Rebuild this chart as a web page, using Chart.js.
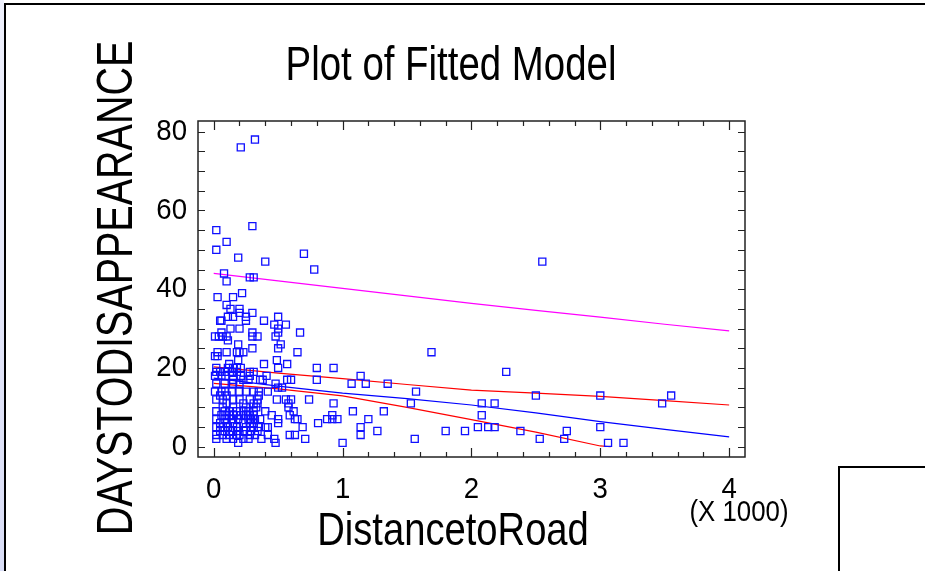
<!DOCTYPE html>
<html>
<head>
<meta charset="utf-8">
<script src="https://cdn.jsdelivr.net/npm/chart.js@4.4.0/dist/chart.umd.min.js"></script>
<style>
  html, body { margin: 0; padding: 0; background: #fff; }
  canvas { display: block; }
</style>
</head>
<body>
<canvas id="grafico" width="925" height="571"></canvas>
<script>
// DADOS (distance in thousands, grouped by days)
const dayLevels = [78, 76, 56, 55, 52, 50, 49, 48, 47, 45, 44, 43, 42, 39, 38, 36, 35, 34, 33, 32,
  31, 30, 29, 28, 27, 26, 25, 24, 23, 22, 21, 20, 19, 18, 17, 16, 15, 14, 13, 12, 11, 10, 9, 8, 7, 6, 5, 4, 3, 2, 1];
const distanceAtLevel = [
  [0.32], [0.21], [0.30], [0.02], [0.10], [0.02], [0.70], [0.19], [0.40, 2.55], [0.78], [0.08],
  [0.28, 0.31], [0.10], [0.22], [0.03, 0.15], [0.10], [0.13, 0.20], [0.20, 0.30],
  [0.11, 0.15, 0.25, 0.50], [0.05, 0.06, 0.25, 0.39], [0.47, 0.56], [0.13, 0.20, 0.50],
  [0.06, 0.30, 0.50, 0.67], [0.01, 0.04, 0.07, 0.10, 0.30, 0.34, 0.48], [0.11], [0.19, 0.52],
  [0.30, 0.50], [0.03, 0.10, 0.18, 0.20, 0.23, 0.65, 1.69], [0.01, 0.03], [0.19, 0.49],
  [0.12, 0.39, 0.57], [0.02, 0.11, 0.15, 0.18, 0.21, 0.50, 0.80, 0.93],
  [0.02, 0.05, 0.09, 0.14, 0.18, 0.28, 0.31, 2.27],
  [0.01, 0.06, 0.09, 0.15, 0.21, 0.28, 0.41, 1.14],
  [0.15, 0.23, 0.27, 0.36, 0.38, 0.57, 0.60, 0.80],
  [0.02, 0.085, 0.15, 0.20, 0.48, 1.07, 1.18, 1.35], [0.50, 0.53],
  [0.01, 0.06, 0.09, 0.14, 0.20, 0.25, 0.31, 0.35, 0.42, 1.57],
  [0.05, 0.10, 0.35, 2.50, 3.00, 3.55],
  [0.02, 0.07, 0.15, 0.20, 0.28, 0.34, 0.49, 0.56, 0.60, 0.74],
  [0.10, 0.23, 0.31, 0.34, 0.58, 0.93, 1.53, 2.08, 2.18, 3.48],
  [0.07, 0.15, 0.25, 0.33, 0.58],
  [0.02, 0.085, 0.12, 0.18, 0.23, 0.27, 0.31, 0.40, 0.62, 1.08, 1.32],
  [0.06, 0.10, 0.12, 0.15, 0.18, 0.21, 0.25, 0.28, 0.31, 0.45, 0.59, 0.92, 2.08],
  [0.02, 0.085, 0.14, 0.19, 0.27, 0.29, 0.32, 0.36, 0.50, 0.63, 0.65, 0.88, 0.92, 0.96, 1.20],
  [0.05, 0.10, 0.15, 0.23, 0.28, 0.31, 0.50, 0.81],
  [0.02, 0.07, 0.11, 0.18, 0.25, 0.31, 0.35, 0.40, 0.42, 0.69, 1.14, 2.05, 2.13, 2.18, 3.00],
  [0.05, 0.085, 0.15, 0.19, 0.23, 0.29, 0.34, 1.27, 1.80, 1.95, 2.38, 2.74],
  [0.02, 0.07, 0.12, 0.18, 0.20, 0.28, 0.32, 0.42, 0.59, 0.63, 1.14],
  [0.02, 0.10, 0.15, 0.23, 0.27, 0.37, 0.47, 0.71, 1.56, 2.53, 2.72],
  [0.19, 0.48, 1.00, 3.06, 3.18]
];

// curvas do modelo
const fitX = [0, 0.5, 1, 1.5, 2, 2.5, 3, 3.5, 4];
const fitted = [17.4, 15.4, 13.6, 12.2, 10.6, 8.6, 6.4, 4.4, 2.5];
const upperConf = [20.3, 18.7, 17.3, 15.8, 14.4, 13.6, 12.8, 11.7, 10.6];
const upperPred = [44.0, 42.1, 40.2, 38.3, 36.4, 34.6, 32.9, 31.1, 29.4];
const lowerX = [0, 0.5, 1, 1.5, 2, 2.5, 3, 3.08];
const lowerConf = [16.1, 14.7, 12.9, 10.0, 6.9, 3.7, 0.2, 0];

// eixos
const xTicks = [0, 1, 2, 3, 4];
const yTicks = [0, 20, 40, 60, 80];

const FONT = '"Liberation Sans", Arial, sans-serif';

var pontos = [];
dayLevels.forEach(function (d, i) {
    distanceAtLevel[i].forEach(function (x) { pontos.push({ x: x, y: d }); });
});

function toXY(xs, ys) {
    return xs.map(function (x, i) { return { x: x, y: ys[i] }; });
}

function linha(data, color) {
    return {
        type: 'line',
        data: data,
        borderColor: color,
        borderWidth: 1.2,
        pointRadius: 0,
        tension: 0,
        fill: false
    };
}

function textoEstreito(ctx, text, x, y, size, align, sx, rot) {
    ctx.save();
    ctx.font = size + 'px ' + FONT;
    ctx.fillStyle = '#000';
    ctx.translate(x, y);
    if (rot) ctx.rotate(rot);
    ctx.scale(sx, 1);
    ctx.textAlign = align;
    ctx.textBaseline = 'middle';
    ctx.fillText(text, 0, 0);
    ctx.restore();
}

// moldura, ticks para dentro e textos
var molduraPlugin = {
    id: 'moldura',
    beforeDraw: function (chart) {
        var ctx = chart.ctx;
        ctx.save();
        ctx.fillStyle = '#fff';
        ctx.fillRect(0, 0, chart.width, chart.height);
        var g = ctx.createLinearGradient(0, 0, 0, chart.height);
        g.addColorStop(0, '#eef0fc');
        g.addColorStop(1, '#d9ddf6');
        ctx.fillStyle = g;
        ctx.fillRect(0, 0, 4, chart.height);
        ctx.restore();
    },
    afterDraw: function (chart) {
        var ctx = chart.ctx;
        var a = chart.chartArea;
        var xs = chart.scales.x, ys = chart.scales.y;
        ctx.save();
        // borda externa
        ctx.strokeStyle = '#000';
        ctx.lineWidth = 2;
        ctx.beginPath();
        ctx.moveTo(5, chart.height);
        ctx.lineTo(5, 4);
        ctx.lineTo(chart.width, 4);
        ctx.stroke();
        // caixa inferior direita
        ctx.beginPath();
        ctx.moveTo(839, chart.height);
        ctx.lineTo(839, 467);
        ctx.lineTo(chart.width, 467);
        ctx.stroke();
        // caixa do grafico
        ctx.strokeStyle = '#222';
        ctx.lineWidth = 1.5;
        ctx.strokeRect(a.left, a.top, a.right - a.left, a.bottom - a.top);
        // ticks
        ctx.lineWidth = 1.2;
        ctx.beginPath();
        for (var v = 0; v <= 80; v += 5) {
            var py = Math.round(ys.getPixelForValue(v)) + 0.5;
            ctx.moveTo(a.left, py); ctx.lineTo(a.left + 7, py);
            ctx.moveTo(a.right, py); ctx.lineTo(a.right - 7, py);
        }
        for (var k = 0; k <= 20; k++) {
            var xv = k * 0.2;
            var px = Math.round(xs.getPixelForValue(xv)) + 0.5;
            var len = (k % 5 === 0) ? 9 : 5;
            ctx.moveTo(px, a.bottom); ctx.lineTo(px, a.bottom - len);
            ctx.moveTo(px, a.top); ctx.lineTo(px, a.top + len);
        }
        ctx.stroke();
        ctx.restore();

        // rotulos dos ticks
        yTicks.forEach(function (t) {
            textoEstreito(ctx, String(t), 187, ys.getPixelForValue(t), 30, 'right', 0.92);
        });
        xTicks.forEach(function (t) {
            textoEstreito(ctx, String(t), xs.getPixelForValue(t), 490, 30, 'center', 0.92);
        });
        textoEstreito(ctx, '(X 1000)', 739, 513, 30, 'center', 0.86);

        // titulos
        textoEstreito(ctx, 'Plot of Fitted Model', 451, 67, 48, 'center', 0.8);
        textoEstreito(ctx, 'DistancetoRoad', 453, 532, 46, 'center', 0.83);
        textoEstreito(ctx, 'DAYSTODISAPPEARANCE', 118, 288, 50, 'center', 0.79, -Math.PI / 2);
    }
};

var graficoCtx = document.getElementById('grafico').getContext('2d');

var grafico = new Chart(graficoCtx, {
    type: 'scatter',
    data: {
        datasets: [
            {
                label: 'DAYSTODISAPPEARANCE',
                data: pontos,
                pointStyle: 'rect',
                pointRadius: 5,
                pointBorderColor: '#1010ff',
                pointBackgroundColor: 'rgba(0,0,0,0)',
                pointBorderWidth: 1.3
            },
            linha(toXY(fitX, upperPred), '#ff00ff'),
            linha(toXY(fitX, upperConf), '#ff0000'),
            linha(toXY(fitX, fitted), '#0000ff'),
            linha(toXY(lowerX, lowerConf), '#ff0000')
        ]
    },
    options: {
        responsive: false,
        animation: false,
        devicePixelRatio: 1,
        layout: {
            padding: { left: 198, top: 121, right: 180, bottom: 114 }
        },
        scales: {
            x: { type: 'linear', min: -0.122, max: 4.123, display: false },
            y: { type: 'linear', min: -2.6, max: 82.7, display: false }
        },
        plugins: {
            legend: { display: false },
            tooltip: { enabled: false }
        }
    },
    plugins: [molduraPlugin]
});
</script>
</body>
</html>
